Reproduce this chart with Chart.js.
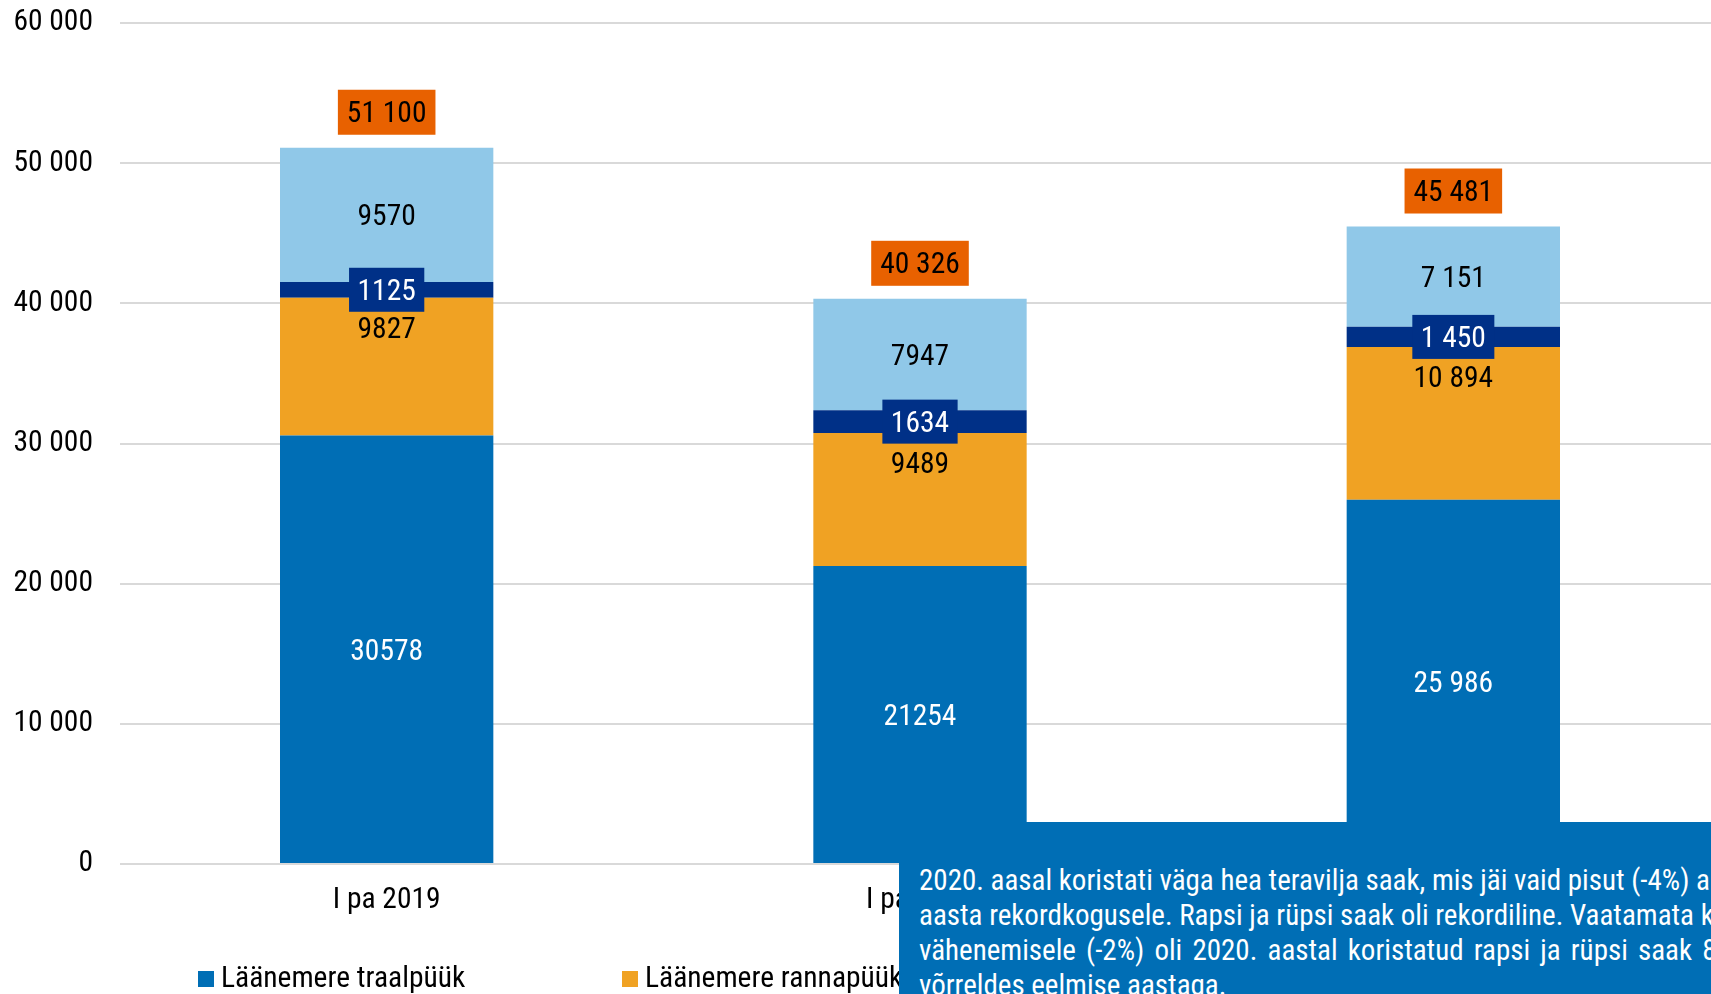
<!DOCTYPE html>
<html lang="et">
<head>
<meta charset="utf-8">
<title>Kalapüük</title>
<script src="https://cdn.jsdelivr.net/npm/chart.js@4.4.1/dist/chart.umd.min.js"></script>
<style>
  html, body { margin: 0; padding: 0; background: #fff; overflow: hidden; }
  #wrap { position: absolute; left: 0; top: 0; width: 1720px; height: 994px; }
  #note {
    position: absolute; left: 899px; top: 822px; width: 1000px; height: 300px;
    background: #006eb5; color: #fff; box-sizing: border-box; padding: 41px 0 0 20px;
    font: 29px 'Roboto Condensed', 'Liberation Sans Narrow', 'DejaVu Sans Condensed', Roboto, sans-serif;
    line-height: 35px; white-space: nowrap;
  }
</style>
</head>
<body>
<div id="wrap"><canvas id="catchChart"></canvas></div>
<div id="note">
  <div>2020. aasal koristati väga hea teravilja saak, mis jäi vaid pisut (-4%) alla 2019.</div>
  <div>aasta rekordkogusele. Rapsi ja rüpsi saak oli rekordiline. Vaatamata kasvupinna</div>
  <div style="word-spacing: 3.5px">vähenemisele (-2%) oli 2020. aastal koristatud rapsi ja rüpsi saak 8% suurem</div>
  <div>võrreldes eelmise aastaga.</div>
</div>
<script>
const periods = ['I pa 2019', 'I pa 2020', 'I pa 2021'];
const seriesNames = ['Läänemere traalpüük', 'Läänemere rannapüük', 'Siseveekogude püük', 'Kaugpüük'];
const trawl = [30578, 21254, 25986];
const coastal = [9827, 9489, 10894];
const inland = [1125, 1634, 1450];
const distant = [9570, 7947, 7151];
const totals = [51100, 40326, 45481];
// the last period's labels are written with a thousands space
const spacedLabels = [false, false, true];
const yMax = 60000;
const yStep = 10000;

const family = "'Roboto Condensed', 'Liberation Sans Narrow', 'DejaVu Sans Condensed', Roboto, sans-serif";
const fontSize = 29.5;
const colors = ['#006eb5', '#f0a223', '#003087', '#90c8e8'];
const totalColor = '#e86100';

const fmt = (v, spaced) => spaced ? String(v).replace(/\B(?=(\d{3})+(?!\d))/g, ' ') : String(v);

// how each series writes its value
const labelStyles = [
  { color: '#fff', pos: 'middle' },
  { color: '#000', pos: 'top' },
  { color: '#fff', pos: 'middle', box: '#003087' },
  { color: '#000', pos: 'middle' }
];

const barLabels = {
  id: 'barLabels',
  afterDatasetsDraw(chart) {
    const ctx = chart.ctx;
    ctx.save();
    ctx.font = `${fontSize}px ${family}`;
    ctx.textAlign = 'center';
    ctx.textBaseline = 'middle';
    chart.data.datasets.forEach((ds, di) => {
      const style = labelStyles[di];
      chart.getDatasetMeta(di).data.forEach((bar, i) => {
        const { x, y, base } = bar.getProps(['x', 'y', 'base'], true);
        const text = fmt(ds.data[i], spacedLabels[i]);
        const ty = style.pos === 'top' ? y + 30 : (y + base) / 2;
        if (style.box) {
          const w = ctx.measureText(text).width + 17;
          ctx.fillStyle = style.box;
          ctx.fillRect(x - w / 2, ty - 22, w, 44);
        }
        ctx.fillStyle = style.color;
        ctx.fillText(text, x, ty + 3);
      });
    });
    const topMeta = chart.getDatasetMeta(chart.data.datasets.length - 1);
    topMeta.data.forEach((bar, i) => {
      const { x, y } = bar.getProps(['x', 'y'], true);
      const text = fmt(totals[i], true);
      const w = ctx.measureText(text).width + 18;
      const cy = y - 36;
      ctx.fillStyle = totalColor;
      ctx.fillRect(x - w / 2, cy - 22, w, 45);
      ctx.fillStyle = '#000';
      ctx.fillText(text, x, cy + 3);
    });
    ctx.restore();
  }
};

const bottomLegend = {
  id: 'bottomLegend',
  afterDraw(chart) {
    const ctx = chart.ctx;
    ctx.save();
    ctx.font = `${fontSize}px ${family}`;
    ctx.textBaseline = 'middle';
    ctx.textAlign = 'left';
    chart.data.datasets.forEach((ds, i) => {
      const x = 198 + i * 424;
      const y = 979;
      ctx.fillStyle = ds.backgroundColor;
      ctx.fillRect(x, y - 8, 16, 16);
      ctx.fillStyle = '#000';
      ctx.fillText(ds.label, x + 23, y + 1);
    });
    ctx.restore();
  }
};

const series = [trawl, coastal, inland, distant];

new Chart(document.getElementById('catchChart'), {
  type: 'bar',
  data: {
    labels: periods,
    datasets: series.map((values, i) => ({
      label: seriesNames[i],
      data: values,
      backgroundColor: colors[i],
      borderWidth: 0,
      categoryPercentage: 1,
      barPercentage: 0.4
    }))
  },
  options: {
    responsive: true,
    maintainAspectRatio: false,
    animation: false,
    events: [],
    layout: { padding: { top: 23, right: 0, bottom: 0, left: 0 } },
    plugins: {
      legend: { display: false },
      tooltip: { enabled: false }
    },
    scales: {
      x: {
        stacked: true,
        grid: { display: false },
        border: { display: false },
        ticks: { color: '#000', padding: 11, font: { family: family, size: fontSize } },
        afterFit(scale) { scale.height = 130; }
      },
      y: {
        stacked: true,
        min: 0,
        max: yMax,
        grid: { color: '#d9d9d9', lineWidth: 2, drawTicks: false },
        border: { display: false },
        ticks: {
          stepSize: yStep,
          color: '#000',
          padding: 27,
          font: { family: family, size: fontSize },
          callback: v => fmt(v, true)
        },
        afterFit(scale) {
          scale.width = 120;
          scale.paddingTop = 0;
          scale.paddingBottom = 0;
        }
      }
    }
  },
  plugins: [barLabels, bottomLegend]
});
</script>
</body>
</html>
